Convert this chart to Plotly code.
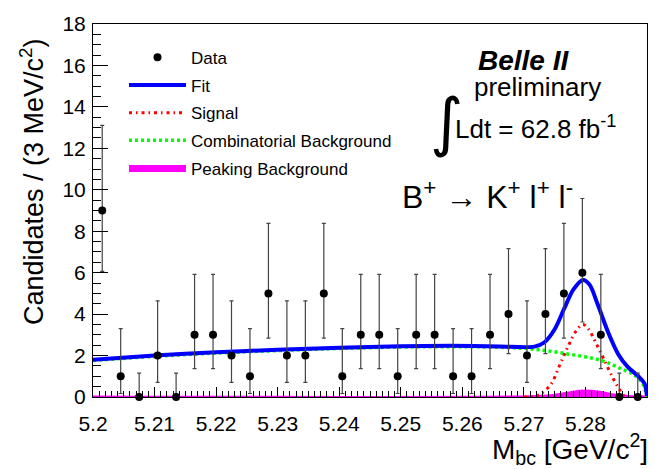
import plotly.graph_objects as go

# ---------------- data ----------------
x_min, x_max, bin_w = 5.200, 5.290, 0.003
counts = [9, 1, 0, 2, 0, 3, 3, 2, 1, 5, 2, 2, 5, 1, 3, 3, 1, 3, 3, 1, 1, 3, 4, 2, 4, 5, 6, 3, 0, 0]
bin_centers = [round(x_min + bin_w * (i + 0.5), 4) for i in range(len(counts))]
# asymmetric (Poisson) errors, per count
err_low_by_n = {0: 0.0, 1: 0.83, 2: 1.29, 3: 1.63, 4: 1.91, 5: 2.16, 6: 2.38, 9: 2.94}
err_high_by_n = {0: 1.15, 1: 2.30, 2: 2.64, 3: 2.92, 4: 3.16, 5: 3.38, 6: 3.58, 9: 4.11}
err_low = [err_low_by_n[n] for n in counts]
err_high = [err_high_by_n[n] for n in counts]

fit_x = [5.200, 5.210, 5.220, 5.230, 5.240, 5.250, 5.258, 5.266, 5.2717, 5.2733, 5.2750,
         5.2766, 5.2780, 5.2796, 5.2807, 5.2820, 5.2837, 5.2853, 5.2869, 5.2886, 5.2896, 5.2900]
fit_y = [1.80, 2.00, 2.16, 2.28, 2.38, 2.45, 2.47, 2.44, 2.43, 2.63, 3.27,
         4.30, 5.17, 5.65, 5.41, 4.46, 3.11, 2.08, 1.44, 1.00, 0.65, 0.05]

comb_x = [5.200, 5.210, 5.220, 5.230, 5.240, 5.250, 5.258, 5.266, 5.2712, 5.2771, 5.2826,
          5.2858, 5.2880, 5.2893, 5.2900]
comb_y = [1.76, 1.96, 2.12, 2.24, 2.34, 2.41, 2.43, 2.40, 2.32, 2.08, 1.76,
          1.36, 1.05, 0.65, 0.0]

sig_x = [5.2700, 5.2717, 5.2728, 5.2744, 5.2758, 5.2771, 5.2785, 5.2796, 5.2805, 5.2818,
         5.2831, 5.2845, 5.2856, 5.2864]
sig_y = [0.0, 0.03, 0.17, 0.62, 1.52, 2.39, 3.19, 3.50, 3.27, 2.55, 1.76, 0.89, 0.33, 0.0]

pk_x = [5.200, 5.270, 5.2744, 5.2770, 5.2790, 5.2810, 5.2830, 5.2847, 5.2870, 5.2900]
pk_y = [0.03, 0.03, 0.08, 0.20, 0.30, 0.30, 0.22, 0.12, 0.05, 0.03]

# ---------------- figure ----------------
fig = go.Figure()

fig.add_trace(go.Scatter(
    x=pk_x, y=pk_y, mode="lines", fill="tozeroy", name="Peaking Background",
    line=dict(color="#ff00ff", width=2, shape="spline"), fillcolor="#ff00ff",
    legendrank=5, legendgroup="e"))
fig.add_trace(go.Scatter(
    x=comb_x, y=comb_y, mode="lines", name="Combinatorial Background",
    line=dict(color="#00ff00", width=3.5, dash="3px,3px", shape="spline"),
    legendrank=4, legendgroup="d"))
fig.add_trace(go.Scatter(
    x=sig_x, y=sig_y, mode="lines", name="Signal",
    line=dict(color="#ff0000", width=3, dash="3px,4px,1.5px,4px", shape="spline"),
    legendrank=3, legendgroup="c"))
fig.add_trace(go.Scatter(
    x=fit_x, y=fit_y, mode="lines", name="Fit",
    line=dict(color="#0000ff", width=4, shape="spline", smoothing=0.8),
    legendrank=2, legendgroup="b"))
fig.add_trace(go.Scatter(
    x=bin_centers, y=counts, mode="markers", name="Data",
    marker=dict(color="black", size=8),
    error_y=dict(type="data", symmetric=False, array=err_high, arrayminus=err_low,
                 color="#444444", thickness=1.2, width=2),
    cliponaxis=False, legendrank=1, legendgroup="a"))

font_family = "Liberation Sans, Arial, Helvetica, sans-serif"

W, H = 554.0, 380.0
def px(x):
    return (x - 93) / W
def py(y):
    return (397 - y) / H

fig.update_layout(
    width=661, height=469,
    margin=dict(l=93, r=14, t=17, b=72),
    paper_bgcolor="white", plot_bgcolor="white",
    font=dict(family=font_family, color="black"),
    showlegend=True,
    legend=dict(x=px(124), y=py(33), xanchor="left", yanchor="top",
                font=dict(size=17, family=font_family), bgcolor="rgba(0,0,0,0)",
                tracegroupgap=2.6, itemwidth=57, traceorder="grouped"),
    xaxis=dict(range=[x_min, x_max], dtick=0.01, tick0=5.2, ticks="inside", ticklen=10,
               tickwidth=1, tickcolor="black", showline=True, linecolor="black",
               linewidth=1, mirror=True, showgrid=False, zeroline=False,
               tickfont=dict(size=21), ticklabelstandoff=8,
               minor=dict(dtick=0.001, ticks="inside", ticklen=6, tickcolor="black",
                          showgrid=False)),
    yaxis=dict(range=[0, 18], dtick=2, ticks="inside", ticklen=15, tickwidth=1,
               tickcolor="black", showline=True, linecolor="black", linewidth=1,
               mirror=True, showgrid=False, zeroline=False, tickfont=dict(size=21),
               ticklabelstandoff=2,
               minor=dict(dtick=0.5, ticks="inside", ticklen=8, tickcolor="black",
                          showgrid=False)),
)

annotations = [
    dict(text="Candidates / (3 MeV/c<sup>2</sup>)", x=px(32), y=py(178), textangle=-90,
         font=dict(size=27), xanchor="center", yanchor="middle"),
    dict(text="M<sub>bc</sub> [GeV/c<sup>2</sup>]", x=px(650), y=py(450),
         font=dict(size=28), xanchor="right", yanchor="middle"),
    dict(text="<b><i>Belle II</i></b>", x=px(523), y=py(54), font=dict(size=28),
         xanchor="center", yanchor="middle"),
    dict(text="preliminary", x=px(537), y=py(81), font=dict(size=26),
         xanchor="center", yanchor="middle"),
    dict(text="\u222b", x=px(446), y=py(117), font=dict(size=64, family="DejaVu Sans"),
         xanchor="center", yanchor="middle"),
    dict(text="Ldt = 62.8 fb<sup>-1</sup>", x=px(453), y=py(122), font=dict(size=26),
         xanchor="left", yanchor="middle"),
    dict(text="B<sup>+</sup> \u2192 K<sup>+</sup> l<sup>+</sup> l<sup>-</sup>", x=px(400),
         y=py(191), font=dict(size=32), xanchor="left", yanchor="middle"),
]
for a in annotations:
    a.update(xref="paper", yref="paper", showarrow=False)
fig.update_layout(annotations=annotations)

fig.write_html("out.html")
